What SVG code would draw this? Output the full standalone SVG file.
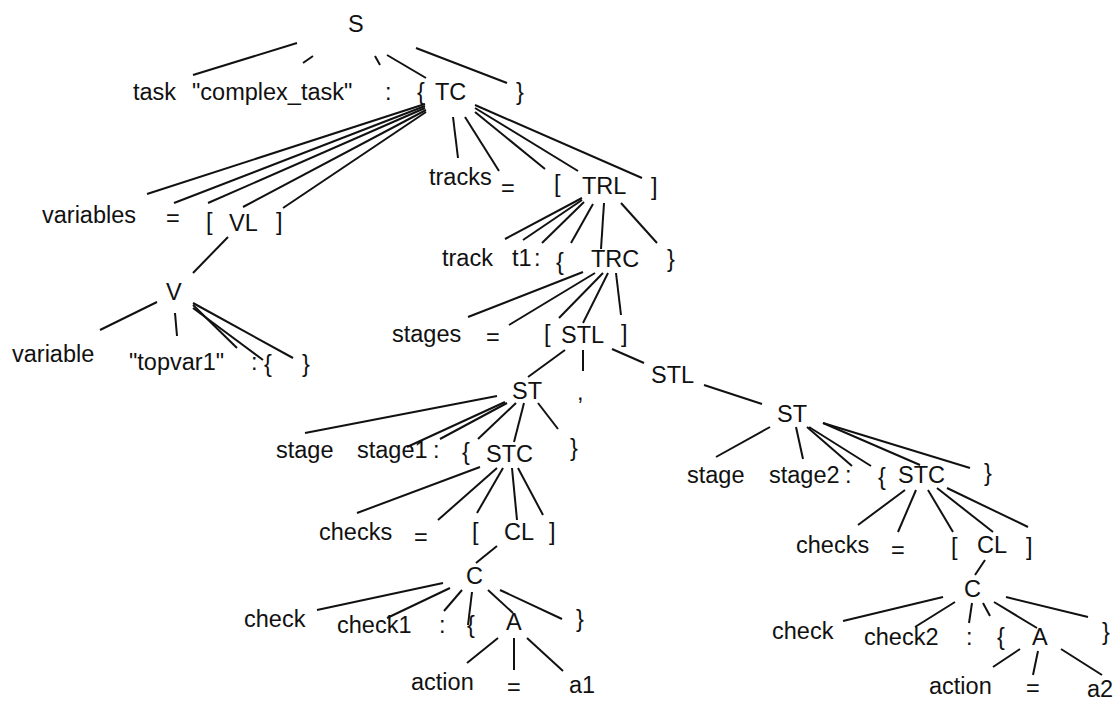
<svg xmlns="http://www.w3.org/2000/svg" width="1115" height="701" viewBox="0 0 1115 701">
  <style>
    text { font-family: "Liberation Sans", Arial, sans-serif; font-size: 23.5px; fill: #111; }
    .edges line { stroke: #111; stroke-width: 2; stroke-linecap: butt; }
  </style>
  <rect width="1115" height="701" fill="#fff"/>

  <!-- connectors -->
  <g class="edges" id="edges">
    <!-- S -->
    <line x1="297" y1="43" x2="193" y2="75"/>
    <line x1="313" y1="56" x2="303" y2="63"/>
    <line x1="375" y1="56" x2="380" y2="65"/>
    <line x1="387" y1="55" x2="426" y2="78"/>
    <line x1="416" y1="48" x2="507" y2="83"/>
    <!-- TC -->
    <line x1="425" y1="104" x2="147" y2="194"/>
    <line x1="425" y1="106" x2="174" y2="203"/>
    <line x1="425" y1="108" x2="208" y2="203"/>
    <line x1="426" y1="110" x2="243" y2="207"/>
    <line x1="426" y1="112" x2="283" y2="208"/>
    <line x1="453" y1="117" x2="458" y2="158"/>
    <line x1="465" y1="117" x2="499" y2="171"/>
    <line x1="475" y1="112" x2="545" y2="169"/>
    <line x1="475" y1="108" x2="578" y2="171"/>
    <line x1="475" y1="105" x2="642" y2="178"/>
    <!-- VL / V -->
    <line x1="228" y1="237" x2="193" y2="273"/>
    <line x1="157" y1="302" x2="100" y2="330"/>
    <line x1="175" y1="313" x2="177" y2="336"/>
    <line x1="193" y1="305" x2="237" y2="348"/>
    <line x1="193" y1="308" x2="263" y2="360"/>
    <line x1="193" y1="303" x2="293" y2="358"/>
    <!-- TRL -->
    <line x1="582" y1="198" x2="505" y2="239"/>
    <line x1="582" y1="200" x2="523" y2="240"/>
    <line x1="584" y1="202" x2="542" y2="243"/>
    <line x1="593" y1="204" x2="571" y2="243"/>
    <line x1="604" y1="203" x2="601" y2="249"/>
    <line x1="621" y1="203" x2="657" y2="243"/>
    <!-- TRC -->
    <line x1="583" y1="272" x2="468" y2="317"/>
    <line x1="595" y1="273" x2="509" y2="325"/>
    <line x1="603" y1="273" x2="559" y2="318"/>
    <line x1="608" y1="273" x2="583" y2="323"/>
    <line x1="616" y1="273" x2="621" y2="315"/>
    <!-- STL -->
    <line x1="565" y1="350" x2="528" y2="377"/>
    <line x1="583" y1="350" x2="583" y2="371"/>
    <line x1="612" y1="349" x2="644" y2="363"/>
    <line x1="704" y1="385" x2="762" y2="404"/>
    <!-- ST (stage1) -->
    <line x1="497" y1="396" x2="305" y2="433"/>
    <line x1="505" y1="402" x2="407" y2="447"/>
    <line x1="507" y1="403" x2="440" y2="439"/>
    <line x1="516" y1="403" x2="478" y2="439"/>
    <line x1="524" y1="403" x2="514" y2="442"/>
    <line x1="538" y1="403" x2="558" y2="429"/>
    <!-- STC (stage1) -->
    <line x1="480" y1="467" x2="357" y2="513"/>
    <line x1="497" y1="468" x2="438" y2="520"/>
    <line x1="503" y1="468" x2="477" y2="513"/>
    <line x1="512" y1="468" x2="517" y2="520"/>
    <line x1="518" y1="468" x2="543" y2="515"/>
    <!-- CL / C (check1) -->
    <line x1="497" y1="546" x2="476" y2="563"/>
    <line x1="443" y1="583" x2="317" y2="610"/>
    <line x1="450" y1="588" x2="387" y2="618"/>
    <line x1="462" y1="590" x2="444" y2="611"/>
    <line x1="472" y1="592" x2="468" y2="625"/>
    <line x1="488" y1="590" x2="513" y2="613"/>
    <line x1="500" y1="590" x2="562" y2="619"/>
    <!-- A (a1) -->
    <line x1="498" y1="638" x2="467" y2="663"/>
    <line x1="514" y1="638" x2="514" y2="670"/>
    <line x1="527" y1="638" x2="563" y2="671"/>
    <!-- ST (stage2) -->
    <line x1="770" y1="427" x2="716" y2="457"/>
    <line x1="796" y1="427" x2="803" y2="459"/>
    <line x1="807" y1="427" x2="852" y2="466"/>
    <line x1="809" y1="427" x2="871" y2="466"/>
    <line x1="823" y1="423" x2="920" y2="465"/>
    <line x1="823" y1="423" x2="970" y2="468"/>
    <!-- STC (stage2) -->
    <line x1="905" y1="490" x2="858" y2="525"/>
    <line x1="916" y1="490" x2="898" y2="532"/>
    <line x1="928" y1="490" x2="953" y2="532"/>
    <line x1="937" y1="488" x2="993" y2="532"/>
    <line x1="947" y1="488" x2="1028" y2="527"/>
    <!-- CL / C (check2) -->
    <line x1="985" y1="560" x2="975" y2="575"/>
    <line x1="943" y1="597" x2="843" y2="621"/>
    <line x1="955" y1="602" x2="915" y2="627"/>
    <line x1="972" y1="603" x2="969" y2="623"/>
    <line x1="983" y1="603" x2="990" y2="616"/>
    <line x1="994" y1="602" x2="1037" y2="628"/>
    <line x1="1006" y1="597" x2="1088" y2="617"/>
    <!-- A (a2) -->
    <line x1="1020" y1="649" x2="993" y2="667"/>
    <line x1="1038" y1="651" x2="1033" y2="675"/>
    <line x1="1061" y1="649" x2="1102" y2="675"/>
  </g>

  <!-- nodes -->
  <g id="n-S"><text x="348" y="32">S</text></g>
  <g id="n-task"><text x="133" y="100">task</text></g>
  <g id="n-name"><text x="192" y="100">"complex_task"</text></g>
  <g id="n-colon0"><text x="385" y="100">:</text></g>
  <g id="n-lbrace0"><text x="417" y="100">{</text></g>
  <g id="n-TC"><text x="435" y="100">TC</text></g>
  <g id="n-rbrace0"><text x="516" y="100">}</text></g>

  <g id="n-variables"><text x="42" y="223">variables</text></g>
  <g id="n-eq1"><text x="166" y="226">=</text></g>
  <g id="n-lbr1"><text x="206" y="230">[</text></g>
  <g id="n-VL"><text x="229" y="231">VL</text></g>
  <g id="n-rbr1"><text x="276" y="230">]</text></g>
  <g id="n-V"><text x="166" y="300">V</text></g>
  <g id="n-variable"><text x="12" y="362">variable</text></g>
  <g id="n-topvar"><text x="129" y="370">"topvar1"</text></g>
  <g id="n-colon1"><text x="251" y="370">:</text></g>
  <g id="n-lbrace1"><text x="264" y="372">{</text></g>
  <g id="n-rbrace1"><text x="302" y="372">}</text></g>

  <g id="n-tracks"><text x="429" y="185">tracks</text></g>
  <g id="n-eq2"><text x="501" y="196">=</text></g>
  <g id="n-lbr2"><text x="554" y="192">[</text></g>
  <g id="n-TRL"><text x="582" y="194">TRL</text></g>
  <g id="n-rbr2"><text x="651" y="195">]</text></g>
  <g id="n-track"><text x="442" y="266">track</text></g>
  <g id="n-t1"><text x="512" y="266">t1</text></g>
  <g id="n-colon2"><text x="534" y="266">:</text></g>
  <g id="n-lbrace2"><text x="556" y="270">{</text></g>
  <g id="n-TRC"><text x="591" y="267">TRC</text></g>
  <g id="n-rbrace2"><text x="667" y="267">}</text></g>

  <g id="n-stages"><text x="392" y="342">stages</text></g>
  <g id="n-eq3"><text x="486" y="345">=</text></g>
  <g id="n-lbr3"><text x="544" y="342">[</text></g>
  <g id="n-STL1"><text x="561" y="343">STL</text></g>
  <g id="n-rbr3"><text x="621" y="342">]</text></g>
  <g id="n-comma"><text x="577" y="400">,</text></g>
  <g id="n-STL2"><text x="651" y="383">STL</text></g>

  <!-- stage1 subtree -->
  <g id="n-ST1"><text x="512" y="399">ST</text></g>
  <g id="n-stage-a"><text x="276" y="458">stage</text></g>
  <g id="n-stage1"><text x="357" y="458">stage1</text></g>
  <g id="n-colon3"><text x="433" y="458">:</text></g>
  <g id="n-lbrace3"><text x="462" y="460">{</text></g>
  <g id="n-STC1"><text x="486" y="462">STC</text></g>
  <g id="n-rbrace3"><text x="570" y="456">}</text></g>
  <g id="n-checks-a"><text x="319" y="540">checks</text></g>
  <g id="n-eq4"><text x="414" y="545">=</text></g>
  <g id="n-lbr4"><text x="472" y="540">[</text></g>
  <g id="n-CL1"><text x="504" y="540">CL</text></g>
  <g id="n-rbr4"><text x="549" y="540">]</text></g>
  <g id="n-C1"><text x="466" y="584">C</text></g>
  <g id="n-check-a"><text x="244" y="627">check</text></g>
  <g id="n-check1"><text x="337" y="633">check1</text></g>
  <g id="n-colon4"><text x="439" y="633">:</text></g>
  <g id="n-lbrace4"><text x="467" y="633">{</text></g>
  <g id="n-A1"><text x="506" y="630">A</text></g>
  <g id="n-rbrace4"><text x="576" y="627">}</text></g>
  <g id="n-action-a"><text x="411" y="690">action</text></g>
  <g id="n-eq5"><text x="507" y="695">=</text></g>
  <g id="n-a1"><text x="569" y="693">a1</text></g>

  <!-- stage2 subtree -->
  <g id="n-ST2"><text x="777" y="422">ST</text></g>
  <g id="n-stage-b"><text x="687" y="483">stage</text></g>
  <g id="n-stage2"><text x="769" y="483">stage2</text></g>
  <g id="n-colon5"><text x="845" y="483">:</text></g>
  <g id="n-lbrace5"><text x="878" y="485">{</text></g>
  <g id="n-STC2"><text x="898" y="483">STC</text></g>
  <g id="n-rbrace5"><text x="984" y="481">}</text></g>
  <g id="n-checks-b"><text x="796" y="553">checks</text></g>
  <g id="n-eq6"><text x="891" y="558">=</text></g>
  <g id="n-lbr6"><text x="951" y="555">[</text></g>
  <g id="n-CL2"><text x="977" y="553">CL</text></g>
  <g id="n-rbr6"><text x="1026" y="555">]</text></g>
  <g id="n-C2"><text x="964" y="597">C</text></g>
  <g id="n-check-b"><text x="772" y="639">check</text></g>
  <g id="n-check2"><text x="864" y="645">check2</text></g>
  <g id="n-colon6"><text x="966" y="645">:</text></g>
  <g id="n-lbrace6"><text x="997" y="645">{</text></g>
  <g id="n-A2"><text x="1032" y="645">A</text></g>
  <g id="n-rbrace6"><text x="1102" y="640">}</text></g>
  <g id="n-action-b"><text x="929" y="694">action</text></g>
  <g id="n-eq7"><text x="1026" y="696">=</text></g>
  <g id="n-a2"><text x="1087" y="697">a2</text></g>
</svg>
